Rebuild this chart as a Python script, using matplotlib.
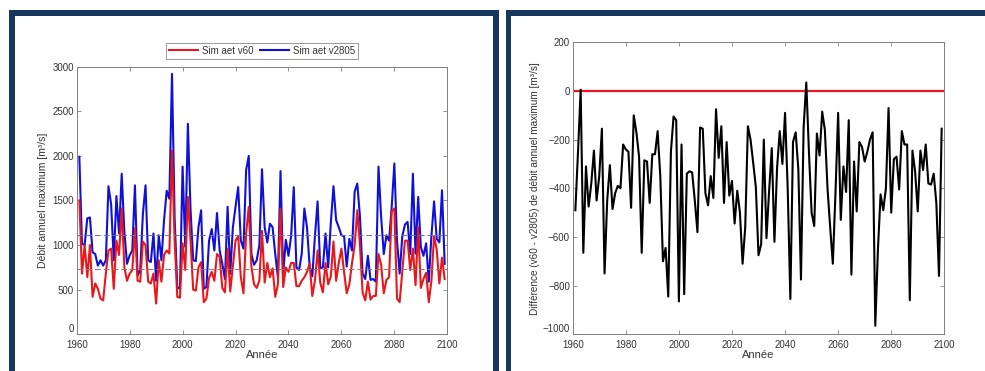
import matplotlib
matplotlib.use("Agg")
import matplotlib.pyplot as plt
from matplotlib.patches import Rectangle
import numpy as np

plt.rcParams['font.family'] = ['Liberation Sans', 'DejaVu Sans']

# ------------------------
# Data, years 1961-2099
# ------------------------
start_year = 1961

v60 = [1500, 680, 1000, 640, 1000, 420, 570, 510, 400, 380,
       680, 940, 960, 510, 1050, 890, 1410, 755, 600, 680,
       720, 1190, 600, 590, 1040, 1000, 590, 570, 680, 345,
       830, 590, 890, 940, 905, 2060, 1050, 420, 410, 1020,
       720, 1540, 1060, 500, 490, 750, 810, 360, 400, 630,
       700, 600, 900, 870, 520, 470, 960, 480, 770, 1050,
       1100, 640, 460, 1130, 1430, 755, 560, 520, 600, 1160,
       580, 800, 640, 740, 420, 560, 1410, 530, 750, 700,
       800, 800, 540, 540, 600, 640, 700, 790, 430, 600,
       940, 580, 470, 800, 560, 650, 1040, 600, 800, 960,
       700, 460, 560, 800, 1000, 1390, 1000, 470, 380, 590,
       390, 430, 430, 900, 780, 460, 610, 640, 1380, 1410,
       400, 360, 700, 1050, 1050, 720, 960, 550, 1200, 520,
       620, 690, 360, 600, 1100, 950, 570, 860, 620]

v2805 = [1990, 1015, 1000, 1300, 1310, 920, 900, 770, 830, 770,
         830, 1660, 1460, 830, 1550, 1130, 1800, 1150, 790, 885,
         940, 1670, 660, 720, 1350, 1670, 830, 810, 1130, 600,
         1110, 830, 1280, 1610, 1520, 2920, 1300, 530, 510, 1880,
         980, 2360, 1400, 830, 820, 1200, 1390, 510, 530, 1050,
         1180, 940, 1360, 940, 790, 620, 1430, 680, 1200, 1430,
         1650, 1050, 960, 1840, 2000, 900, 780, 830, 1000, 1850,
         1200, 1030, 1240, 1200, 900, 640, 1830, 680, 1060, 880,
         1100, 1650, 750, 720, 900, 1410, 1200, 760, 650, 1100,
         1490, 740, 750, 1130, 750, 1250, 1660, 1280, 1200, 1110,
         1100, 760, 1070, 940, 1600, 1690, 1320, 680, 620, 880,
         610, 620, 590, 1880, 1320, 900, 1110, 1050, 1430, 1915,
         1050, 680, 1100, 1230, 1260, 900, 1800, 905, 1540, 980,
         880, 1020, 590, 1100, 1490, 1070, 1030, 1615, 790]

diff = [-490, -250, 5, -665, -310, -475, -380, -245, -450, -350,
        -155, -750, -450, -305, -485, -420, -390, -400, -220, -240,
        -250, -480, -100, -170, -270, -665, -285, -290, -460, -260,
        -260, -165, -350, -700, -645, -845, -250, -105, -120, -865,
        -220, -835, -340, -330, -335, -450, -580, -150, -155, -420,
        -470, -350, -440, -75, -275, -145, -460, -210, -430, -370,
        -545, -410, -500, -710, -560, -145, -200, -295, -395, -675,
        -630, -200, -605, -410, -235, -620, -315, -165, -300, -90,
        -400, -855, -210, -170, -320, -775, -150, 35, -250, -500,
        -555, -175, -265, -85, -160, -400, -560, -710, -420, -90,
        -530, -310, -415, -120, -755, -290, -495, -210, -230, -290,
        -250, -200, -170, -965, -650, -425, -490, -400, -70, -500,
        -280, -270, -405, -165, -220, -220, -860, -245, -330, -495,
        -245, -325, -220, -380, -385, -340, -460, -760, -155]

# dashed reference levels seen on the left chart
level_v2805 = 1115
level_v60 = 735

x_ticks = [1960, 1980, 2000, 2020, 2040, 2060, 2080, 2100]
y_ticks_left = [0, 500, 1000, 1500, 2000, 2500, 3000]
y_ticks_right = [-1000, -800, -600, -400, -200, 0, 200]

W, H = 985, 371
navy = '#17375e'
grey = '#808080'
txt = '#333333'


def px_axes(fig, x0, y_top, x1, y_bot):
    # pixel box (top-left origin) -> figure axes
    return fig.add_axes([x0 / W, (H - y_bot) / H, (x1 - x0) / W, (y_bot - y_top) / H])


def frame(fig, x0, y0, x1, y1, color, z):
    fig.patches.append(Rectangle((x0 / W, 0), (x1 - x0) / W, (H - y0) / H,
                                 transform=fig.transFigure, facecolor=color,
                                 edgecolor='none', zorder=z))


def style_axes(ax):
    for sp in ax.spines.values():
        sp.set_color(grey)
        sp.set_linewidth(0.7)
    ax.tick_params(direction='in', top=True, right=True, length=3, width=0.6,
                   color=grey, labelcolor=txt, labelsize=7)
    ax.tick_params(axis='x', pad=4)
    ax.tick_params(axis='y', pad=2)
    # lowest y label sits just above the corner, like the original
    ax.get_yticklabels()[0].set_verticalalignment('bottom')


fig = plt.figure(figsize=(W / 100, H / 100), dpi=100)
fig.patch.set_facecolor('white')

# navy picture frames
frame(fig, 9, 10, 499, H, navy, -3)
frame(fig, 15, 16, 493, H, 'white', -2)
frame(fig, 506, 10, W, H, navy, -3)
frame(fig, 511, 16, W, H, 'white', -2)

years = np.arange(start_year, start_year + len(v60))

# ------------------------
# Left: annual maxima
# ------------------------
ax1 = px_axes(fig, 76.7, 66.7, 447.3, 334.3)
ax1.plot(years, v60, color='#e8171b', lw=1.5, label='Sim aet v60', zorder=3)
ax1.plot(years, v2805, color='#1010d8', lw=1.5, label='Sim aet v2805', zorder=2)
ax1.axhline(level_v2805, color='#6f6f9f', lw=0.7, ls=(0, (6, 3)), zorder=4)
ax1.axhline(level_v60, color='#9f6f6f', lw=0.7, ls=(0, (6, 3)), zorder=4)
ax1.set_xlim(1960, 2100)
ax1.set_ylim(0, 3000)
ax1.set_xticks(x_ticks)
ax1.set_yticks(y_ticks_left)
style_axes(ax1)
ax1.set_xlabel('Année', fontsize=8, color=txt, labelpad=0)
ax1.set_ylabel('Débit annuel maximum [m³/s]', fontsize=7.5, color=txt, labelpad=3)
leg = ax1.legend(loc='center', bbox_to_anchor=(0.5, 1.06), ncol=2, fontsize=7,
                 fancybox=False, handlelength=3, columnspacing=0.6,
                 handletextpad=0.4, borderpad=0.3, borderaxespad=0)
leg.get_frame().set_edgecolor(grey)
leg.get_frame().set_linewidth(0.7)
for t in leg.get_texts():
    t.set_color(txt)

# ------------------------
# Right: difference
# ------------------------
ax2 = px_axes(fig, 572.7, 42.3, 944.3, 334.3)
ax2.plot([start_year, 2100], [0, 0], color='#e8171b', lw=1.6, zorder=2)
ax2.plot(years, diff, color='black', lw=1.5, zorder=3)
ax2.set_xlim(1960, 2100)
ax2.set_ylim(-1000, 200)
ax2.set_xticks(x_ticks)
ax2.set_yticks(y_ticks_right)
style_axes(ax2)
ax2.set_xlabel('Année', fontsize=8, color=txt, labelpad=0)
ax2.set_ylabel('Différence (v60 - v2805) de débit annuel maximum [m³/s]',
               fontsize=7.2, color=txt, labelpad=2)

fig.savefig('out.png', dpi=100)
